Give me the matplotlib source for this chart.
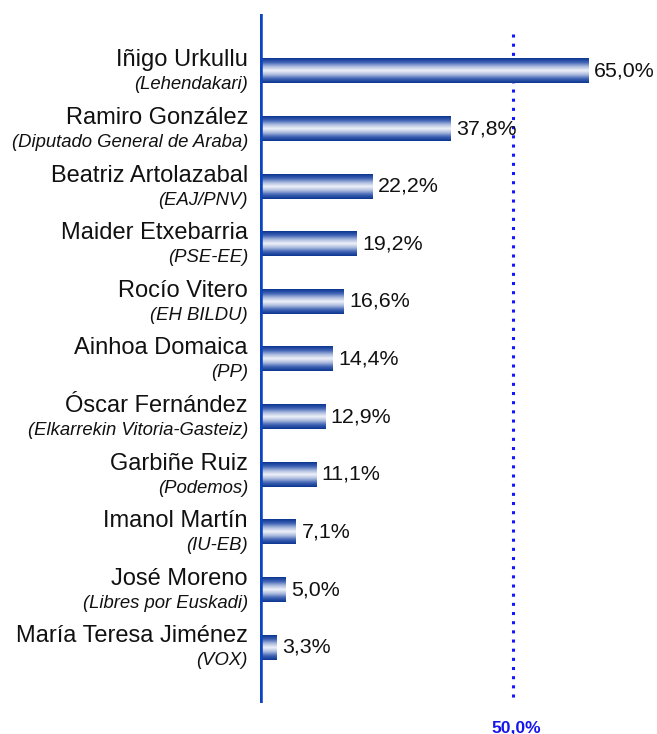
import matplotlib
matplotlib.use("Agg")
import matplotlib.pyplot as plt
import numpy as np
from matplotlib.colors import LinearSegmentedColormap

names = ["Iñigo Urkullu", "Ramiro González", "Beatriz Artolazabal", "Maider Etxebarria",
         "Rocío Vitero", "Ainhoa Domaica", "Óscar Fernández", "Garbiñe Ruiz",
         "Imanol Martín", "José Moreno", "María Teresa Jiménez"]
roles = ["(Lehendakari)", "(Diputado General de Araba)", "(EAJ/PNV)", "(PSE-EE)",
         "(EH BILDU)", "(PP)", "(Elkarrekin Vitoria-Gasteiz)", "(Podemos)",
         "(IU-EB)", "(Libres por Euskadi)", "(VOX)"]
values = [65.0, 37.8, 22.2, 19.2, 16.6, 14.4, 12.9, 11.1, 7.1, 5.0, 3.3]
ref_value = 50.0

W, H = 657, 734
fig = plt.figure(figsize=(W / 100, H / 100), dpi=100)
ax_left, ax_top, ax_bottom = 260, 14, 703
ax = fig.add_axes([ax_left / W, 1 - ax_bottom / H, (W - ax_left) / W, (ax_bottom - ax_top) / H])
px_per_unit = 5.05
ax.set_xlim(0, (W - ax_left) / px_per_unit)
ax.set_ylim(10.97, -0.99)
for s in ax.spines.values():
    s.set_visible(False)
ax.set_xticks([])
ax.set_yticks([])

cmap = LinearSegmentedColormap.from_list(
    "g", ["#0a3590", "#3f63b4", "#aab9de", "#f2f4fb", "#aab9de", "#3f63b4", "#0a3590"])
grad = np.linspace(0, 1, 64).reshape(-1, 1)
bh = 0.43
font = "Liberation Sans"
for i, (n, r, v) in enumerate(zip(names, roles, values)):
    ax.imshow(grad, cmap=cmap, aspect="auto", extent=[0, v, i + bh / 2, i - bh / 2],
              interpolation="bicubic", zorder=2)
    ax.text(v + 1.1, i, f"{v:.1f}%".replace(".", ","), va="center", ha="left",
            fontsize=15.4, family=font, color="#111111")
    ax.text(-2.4, i - 0.185, n, va="center", ha="right", fontsize=17, family=font,
            color="#111111", clip_on=False)
    ax.text(-2.4, i + 0.24, r, va="center", ha="right", fontsize=13.3, family=font,
            style="italic", color="#111111", clip_on=False)

ax.set_xlim(0, (W - ax_left) / px_per_unit)
ax.set_ylim(10.97, -0.99)

# vertical axis line
ax.axvline(0, color="#0b45c0", lw=4, zorder=3)
# reference dotted line
ax.plot([ref_value, ref_value], [-0.65, 10.97], color="#1515ff", lw=2.2,
        linestyle=(0, (1, 2)), zorder=1)
ax.text(ref_value + 0.7, 11.40, "50,0%", ha="center", va="center", fontsize=12.6,
        fontweight="bold", family=font, color="#1515ee", clip_on=False)

fig.savefig("out.png", dpi=100)
